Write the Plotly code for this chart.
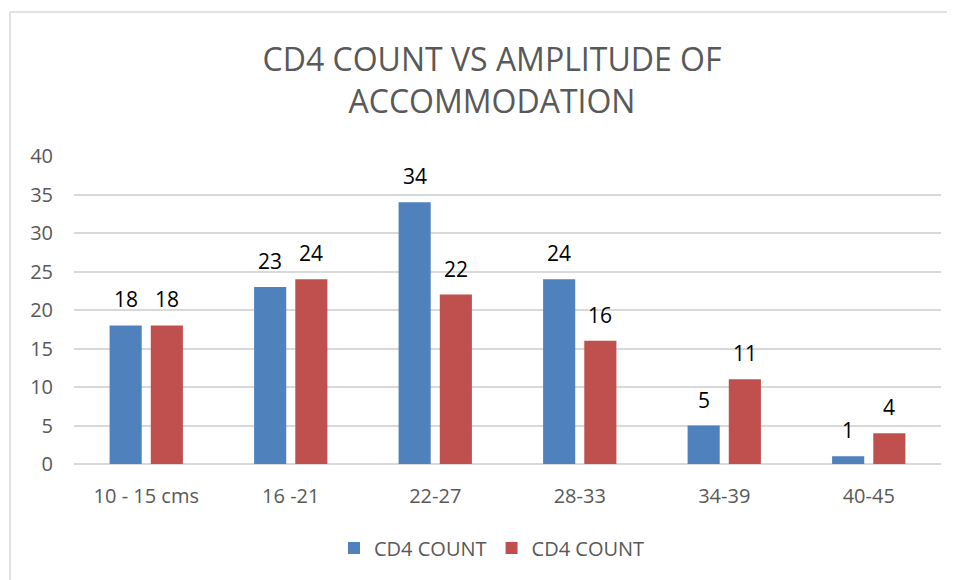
import plotly.graph_objects as go

categories = ["10 - 15 cms", "16 -21", "22-27", "28-33", "34-39", "40-45"]
series1_name = "CD4 COUNT"
series1_values = [18, 23, 34, 24, 5, 1]
series2_name = "CD4 COUNT"
series2_values = [18, 24, 22, 16, 11, 4]
y_ticks = [0, 5, 10, 15, 20, 25, 30, 35, 40]

FONT = "Open Sans"
BLUE = "#4F81BD"
RED = "#C0504D"
BARGAP = 0.43

fig = go.Figure()
fig.add_trace(go.Bar(
    x=categories, y=series1_values, name=series1_name,
    marker=dict(color=BLUE, line=dict(width=0)),
))
fig.add_trace(go.Bar(
    x=categories, y=series2_values, name=series2_name,
    marker=dict(color=RED, line=dict(width=0)),
))

# value labels above bars (positioned at the bar centres of each group)
slot = (1 - BARGAP) / 2
annotations = []
for vals, off in ((series1_values, -slot / 2), (series2_values, slot / 2)):
    for i, v in enumerate(vals):
        annotations.append(dict(
            x=i + off, y=v, xref="x", yref="y", text=str(v), showarrow=False,
            yanchor="middle", yshift=26,
            font=dict(family=FONT, size=21, color="#000000"),
        ))

# the page body adds an 8px margin, so the figure is 8px smaller than the window
W, H = 947, 572
L, R, T, B = 66, 14, 148, 116
pw, ph = W - L - R, H - T - B

fig.update_layout(
    width=W, height=H,
    margin=dict(l=L, r=R, t=T, b=B),
    paper_bgcolor="white", plot_bgcolor="white",
    barmode="group", bargap=BARGAP, bargroupgap=0.22,
    title=dict(
        text="CD4 COUNT VS AMPLITUDE OF<br>ACCOMMODATION",
        x=484 / W, xanchor="center", y=1 - 63 / H, yanchor="middle",
        font=dict(family=FONT, size=32, color="#595959"),
    ),
    font=dict(family=FONT, color="#595959"),
    showlegend=True,
    legend=dict(
        orientation="h", x=(484 - L) / pw, xanchor="center",
        y=-(540 - (H - B)) / ph, yanchor="middle",
        font=dict(family=FONT, size=20, color="#595959"),
        itemwidth=30, traceorder="normal",
    ),
    xaxis=dict(
        showgrid=False, showline=False, zeroline=False,
        tickfont=dict(family=FONT, size=20, color="#595959"),
        ticks="", ticklabelstandoff=18,
    ),
    yaxis=dict(
        range=[0, 40], tickvals=y_ticks,
        showgrid=True, gridcolor="#D9D9D9", gridwidth=1.5,
        zeroline=True, zerolinecolor="#D9D9D9", zerolinewidth=1.5,
        showline=False, ticks="",
        tickfont=dict(family=FONT, size=20, color="#595959"),
        ticklabelstandoff=20,
    ),
    annotations=annotations,
    shapes=[
        dict(type="line", xref="paper", yref="paper",
             x0=(2 - L) / pw, x1=(W - L) / pw,
             y0=(H - B - 4) / ph, y1=(H - B - 4) / ph,
             line=dict(color="#D9D9D9", width=1.5)),
        dict(type="line", xref="paper", yref="paper",
             x0=(2 - L) / pw, x1=(2 - L) / pw,
             y0=(H - B - 4) / ph, y1=-B / ph,
             line=dict(color="#D9D9D9", width=1.5)),
    ],
)

fig.write_html("out.html")
